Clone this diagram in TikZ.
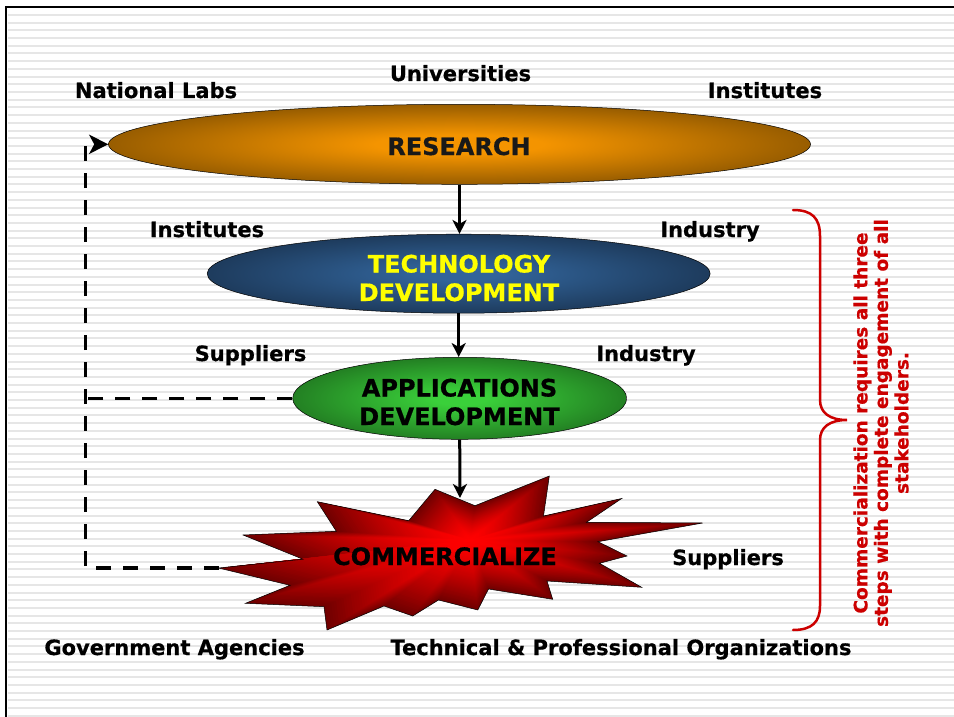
\documentclass[tikz,border=0pt]{standalone}
\usepackage{fontspec}
\setmainfont{DejaVu Sans}[BoldFeatures={FakeBold=0.6}]
\usetikzlibrary{shapes.geometric,arrows.meta}

\definecolor{resIn}{HTML}{F49400}
\definecolor{resOut}{HTML}{684000}
\definecolor{techIn}{HTML}{32649A}
\definecolor{techOut}{HTML}{142840}
\definecolor{appIn}{HTML}{3AD03A}
\definecolor{appOut}{HTML}{185A18}
\definecolor{starIn}{HTML}{FF0000}
\definecolor{starOut}{HTML}{700000}
\definecolor{noteRed}{HTML}{CC0000}
\definecolor{stripe}{HTML}{E6E6E6}
\definecolor{techText}{HTML}{FFFF00}

\pgfdeclareradialshading{resShade}{\pgfpoint{0bp}{0bp}}{color(0bp)=(resIn); color(6bp)=(resIn); color(35bp)=(resOut); color(50bp)=(resOut)}
\pgfdeclareradialshading{techShade}{\pgfpoint{0bp}{0bp}}{color(0bp)=(techIn); color(4bp)=(techIn); color(35bp)=(techOut); color(50bp)=(techOut)}
\pgfdeclareradialshading{appShade}{\pgfpoint{0bp}{0bp}}{color(0bp)=(appIn); color(4bp)=(appIn); color(35bp)=(appOut); color(50bp)=(appOut)}

% outline of the starburst, relative to its centre
\def\starpts{(-35,-50.7) -- (5,-34.3) -- (79.3,-64) -- (73.5,-24) -- (151.7,-41.5)
 -- (116.5,-17.7) -- (232.7,-17) -- (128,1.7) -- (157,16) -- (129.5,23.3)
 -- (171.7,47.3) -- (77,41) -- (82.7,59.3) -- (18.5,49) -- (7.8,70)
 -- (-31.5,60) -- (-57.3,76) -- (-86,66) -- (-143,90) -- (-146,66.7)
 -- (-224.5,63.3) -- (-180,45.3) -- (-251.5,28) -- (-167,19.2) -- (-227,-5)
 -- (-133.7,-8.7) -- (-152.7,-38.3) -- (-61.3,-19.3) -- cycle}

\tikzset{
  lbl/.style={font=\bfseries\fontsize{21}{25}\selectfont, anchor=base, inner sep=0pt},
  stage/.style={ellipse, draw=black, line width=0.5pt, inner sep=0pt, shade},
  stagetext/.style={font=\bfseries\fontsize{24}{28.5}\selectfont, align=center, anchor=base, inner sep=0pt},
  flow/.style={line width=3pt, -{Stealth[length=14pt,width=14pt,inset=4pt]}},
  loop/.style={line width=3.5pt, dash pattern=on 15pt off 12pt},
  looparrow/.style={loop, -{Stealth[length=19pt,width=19pt,inset=5pt]}},
}

\begin{document}
\begin{tikzpicture}[x=1pt, y=-1pt]
\useasboundingbox (0,0) rectangle (954,717);

% striped background and frame
\fill[white] (0,0) rectangle (954,717);
\foreach \k in {0,...,91}{
  \pgfmathsetmacro\yy{15+7.7*\k}
  \draw[stripe, line width=2pt] (8,\yy) -- (954,\yy);
}
\draw[line width=2.3pt] (6.2,717) -- (6.2,7.2) -- (954,7.2);

% the three development stages
\node[stage, shading=resShade, minimum width=702pt, minimum height=80pt] (research) at (459.5,144.3) {};
\node[stage, shading=techShade, minimum width=503pt, minimum height=79pt] (tech) at (458.7,273.7) {};
\node[stage, shading=appShade, minimum width=334pt, minimum height=82pt] (apps) at (459.7,398.3) {};

% starburst with a contour gradient
\foreach \k in {0,...,59}{
  \pgfmathsetmacro\s{1-\k/60}
  \pgfmathtruncatemacro\p{100*\s^1.5}
  \fill[starOut!\p!starIn, shift={(470,540)}, scale=\s] \starpts;
}
\draw[black, line width=0.5pt, shift={(470,540)}] \starpts;
\coordinate (starTop) at (460,498);
\coordinate (starWest) at (218.5,568);

% stage captions (base anchor sits on the last line)
\node[stagetext, text=black!90] (researchText) at (459,155) {RESEARCH};
\node[stagetext, text=techText] (techText) at (459,301) {TECHNOLOGY\\DEVELOPMENT};
\node[stagetext, text=black] (appsText) at (459.5,425) {APPLICATIONS\\DEVELOPMENT};
\node[stagetext, text=black] (commText) at (445,565) {COMMERCIALIZE};

% main flow
\draw[flow] (research.south) -- (research.south |- tech.north);
\draw[flow] (tech.south) -- (tech.south |- apps.north);
\draw[flow] (apps.south) -- (starTop);

% feedback loop
\coordinate (loopBottom) at (85.5,568);
\coordinate (loopTop) at (85.5,144.3);
\draw[looparrow] (starWest) -- (loopBottom) -- (loopTop) -- (research.west);
\draw[loop] (apps.west) -- (apps.west -| loopBottom);

% stakeholders
\node[lbl] (uni) at (460.5,81) {Universities};
\node[lbl] (natlabs) at (156,98) {National Labs};
\node[lbl] (instA) at (765,98) {Institutes};
\node[lbl] (instB) at (207,237) {Institutes};
\node[lbl] (indA) at (710,237) {Industry};
\node[lbl] (supA) at (250.5,361) {Suppliers};
\node[lbl] (indB) at (646,361) {Industry};
\node[lbl] (supB) at (728,565) {Suppliers};
\node[lbl] (gov) at (174.5,655) {Government Agencies};
\node[lbl] (orgs) at (621,655) {Technical \& Professional Organizations};

% brace and note
\draw[noteRed, line width=2.5pt, line cap=round]
  (793,210) .. controls (812,210) and (820,218) .. (820,236)
  -- (820,400) .. controls (820,413) and (830,420) .. (847,420)
  .. controls (830,420) and (820,427) .. (820,440)
  -- (820,606) .. controls (820,622) and (812,630) .. (793,630);
\node[rotate=90, text=noteRed, font=\bfseries\fontsize{18.5}{20.5}\selectfont, align=center, inner sep=0pt] (note) at (881,423)
  {Commercialization requires all three\\steps with complete engagement of all\\stakeholders.};
\end{tikzpicture}
\end{document}
